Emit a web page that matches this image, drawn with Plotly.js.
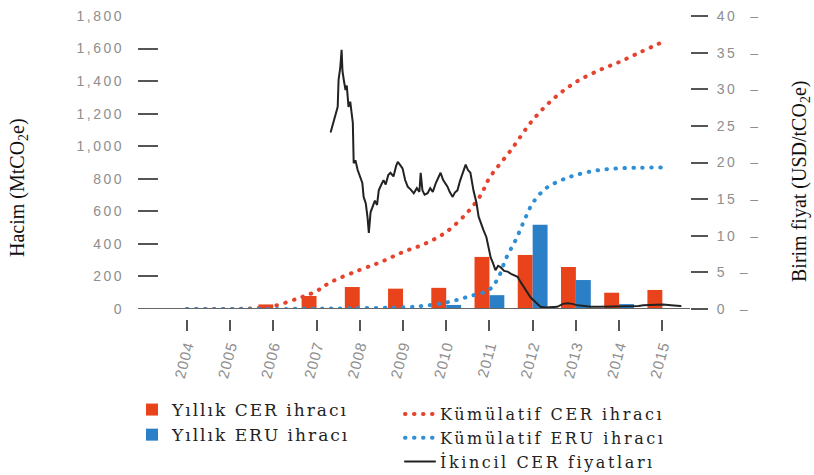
<!DOCTYPE html>
<html>
<head>
<meta charset="utf-8">
<script src="https://cdn.plot.ly/plotly-3.0.1.min.js"></script>
<style>
  html, body { margin: 0; padding: 0; background: #fff; }
  #chart { width: 814px; height: 475px; }
  /* the source picture is stretched sideways, so the texts are spaced out a bit */
  .legendtext { letter-spacing: 2px; }
  .legend2text { letter-spacing: 2.6px; }
  #chart .ytick text, #chart .y2tick text { letter-spacing: 2.5px; }
  #chart .xtick text { letter-spacing: 1px; }
  #chart .js-line { stroke-linecap: round; }
  #chart .legendbar { transform: scale(1.5, 1.3); }
</style>
</head>
<body>
<div id="chart"></div>
<script>
// yearly issuance (MtCO2e)
const years = [2004, 2005, 2006, 2007, 2008, 2009, 2010, 2011, 2012, 2013, 2014, 2015];
const yearLabels = ['2004', '2005', '2006', '2007', '2008', '2009', '2010', '2011', '2012', '2013', '2014', '2015'];
const cerAnnual = [6, 4, 28, 80, 135, 125, 130, 320, 332, 258, 100, 117];
const eruAnnual = [0, 0, 0, 0, 0, 3, 25, 85, 518, 178, 30, 0];

// cumulative issuance (MtCO2e)
const cumCerX = [2004, 2005, 2005.5, 2006, 2006.6, 2007, 2007.33, 2008, 2008.5, 2009, 2009.5, 2010, 2010.5, 2010.8, 2011, 2011.5, 2012, 2012.5, 2013, 2013.55, 2014, 2014.5, 2015];
const cumCerY = [0, 0, 4, 18, 68, 110, 165, 240, 290, 350, 400, 473, 596, 700, 805, 977, 1160, 1296, 1394, 1468, 1517, 1579, 1640];
const cumEruX = [2004, 2005, 2006, 2007, 2008, 2009, 2009.5, 2010, 2010.5, 2011, 2011.2, 2011.4, 2011.6, 2011.8, 2012, 2012.3, 2012.65, 2013, 2013.5, 2014, 2014.5, 2015];
const cumEruY = [0, 0, 0, 2, 5, 10, 20, 40, 75, 120, 190, 320, 420, 540, 650, 740, 790, 823, 852, 864, 868, 870];

// secondary CER price (USD/tCO2e)
const priceX = [2007.33, 2007.37, 2007.40, 2007.45, 2007.49, 2007.51, 2007.55, 2007.58, 2007.60, 2007.63, 2007.67, 2007.70, 2007.74, 2007.78, 2007.84, 2007.86, 2007.90, 2007.95, 2008.02, 2008.06, 2008.09, 2008.14, 2008.18, 2008.21, 2008.25, 2008.30, 2008.35, 2008.40, 2008.44, 2008.50, 2008.55, 2008.60, 2008.66, 2008.71, 2008.78, 2008.84, 2008.88, 2008.94, 2008.99, 2009.05, 2009.11, 2009.18, 2009.25, 2009.32, 2009.38, 2009.41, 2009.45, 2009.50, 2009.57, 2009.63, 2009.69, 2009.76, 2009.82, 2009.87, 2009.93, 2010.03, 2010.08, 2010.15, 2010.20, 2010.26, 2010.32, 2010.38, 2010.45, 2010.50, 2010.56, 2010.63, 2010.70, 2010.75, 2010.80, 2010.86, 2010.93, 2011.00, 2011.03, 2011.08, 2011.14, 2011.20, 2011.26, 2011.34, 2011.42, 2011.50, 2011.58, 2011.65, 2011.72, 2011.79, 2011.88, 2011.95, 2012.02, 2012.10, 2012.18, 2012.30, 2012.41, 2012.57, 2012.70, 2012.81, 2012.92, 2013.04, 2013.20, 2013.34, 2013.55, 2013.80, 2014.05, 2014.26, 2014.45, 2014.56, 2014.80, 2015.02, 2015.20, 2015.42];
const priceY = [24.2, 25.0, 25.8, 26.5, 27.6, 31.3, 33.0, 35.4, 32.5, 31.3, 29.9, 30.5, 27.6, 28.3, 25.4, 19.9, 20.3, 19.0, 18.0, 17.2, 15.3, 14.4, 12.5, 10.4, 13.2, 13.9, 14.8, 14.2, 16.2, 17.0, 17.6, 17.0, 18.3, 18.6, 18.1, 19.5, 20.1, 19.6, 19.2, 17.6, 16.7, 16.3, 15.8, 16.5, 16.0, 18.6, 16.2, 15.6, 15.8, 16.5, 16.0, 17.2, 18.0, 18.6, 17.6, 16.7, 16.0, 15.3, 15.9, 16.2, 17.5, 18.4, 19.7, 19.0, 18.6, 16.2, 14.5, 12.6, 11.9, 10.8, 9.8, 8.0, 7.0, 6.3, 5.3, 5.9, 5.7, 5.2, 5.1, 4.8, 4.6, 4.4, 3.7, 3.0, 2.2, 1.6, 1.2, 0.7, 0.3, 0.2, 0.2, 0.3, 0.7, 0.8, 0.7, 0.5, 0.4, 0.3, 0.3, 0.3, 0.3, 0.3, 0.4, 0.5, 0.6, 0.6, 0.5, 0.4];

const tickFont = { family: 'Liberation Sans, Arial, sans-serif', size: 14, color: '#8e8e8e' };
const serif = 'Liberation Serif, Times New Roman, serif';
const legendFont = { family: 'DejaVu Serif', size: 17, color: '#222' };

const traces = [
  {
    type: 'bar', name: 'Yıllık CER ihracı', x: years, y: cerAnnual,
    marker: { color: '#e8431b' }, legend: 'legend', offsetgroup: 'cer'
  },
  {
    type: 'bar', name: 'Yıllık ERU ihracı', x: years, y: eruAnnual,
    marker: { color: '#2b7fc6' }, legend: 'legend', offsetgroup: 'eru'
  },
  {
    type: 'scatter', mode: 'lines', name: 'Kümülatif CER ihracı', x: cumCerX, y: cumCerY,
    line: { color: '#e5432e', width: 4, dash: '0.5px,8.5px', shape: 'spline' }, legend: 'legend2'
  },
  {
    type: 'scatter', mode: 'lines', name: 'Kümülatif ERU ihracı', x: cumEruX, y: cumEruY,
    line: { color: '#2f8fd6', width: 4, dash: '0.5px,8.5px', shape: 'spline' }, legend: 'legend2'
  },
  {
    type: 'scatter', mode: 'lines', name: 'İkincil CER fiyatları', x: priceX, y: priceY, yaxis: 'y2',
    line: { color: '#222', width: 2 }, legend: 'legend2'
  }
];

const layout = {
  width: 814, height: 475,
  margin: { l: 138, r: 124, t: 16, b: 156, autoexpand: false },
  font: legendFont,
  paper_bgcolor: '#fff', plot_bgcolor: 'rgba(0,0,0,0)',
  showlegend: true,
  barmode: 'group', bargap: 0.31, bargroupgap: 0,
  xaxis: {
    type: 'linear', range: [2002.87, 2015.64],
    tickvals: years, ticktext: yearLabels, tickangle: -75,
    ticks: 'outside', ticklen: 11, tickwidth: 2, tickcolor: '#555',
    tickfont: { family: tickFont.family, size: 15, color: tickFont.color },
    showgrid: false, zeroline: false, showline: false,
    anchor: 'free', position: 0
  },
  yaxis: {
    domain: [0.033, 1], range: [0, 1800], dtick: 200, tickformat: ',d',
    ticks: 'inside', ticklen: 20, tickwidth: 2, tickcolor: '#555',
    ticklabelstandoff: 13, tickfont: tickFont,
    showgrid: false, zeroline: false, showline: false
  },
  yaxis2: {
    overlaying: 'y', side: 'right', range: [0, 40], dtick: 5,
    ticks: 'outside', ticklen: 17, tickwidth: 2, tickcolor: '#555',
    ticksuffix: '  –', tickfont: tickFont, ticklabelstandoff: 6,
    showgrid: false, zeroline: false, showline: false
  },
  annotations: [
    {
      text: 'Hacim (MtCO<sub>2</sub>e)', textangle: -90, showarrow: false,
      xref: 'paper', yref: 'paper', x: (18 - 138) / 552, y: (319 - 188) / 303,
      xanchor: 'center', yanchor: 'middle', font: { family: serif, size: 20, color: '#111' }
    },
    {
      text: 'Birim fiyat (USD/tCO<sub>2</sub>e)', textangle: -90, showarrow: false,
      xref: 'paper', yref: 'paper', x: (800 - 138) / 552, y: (319 - 182) / 303,
      xanchor: 'center', yanchor: 'middle', font: { family: serif, size: 20, color: '#111' }
    }
  ],
  shapes: [
    { type: 'line', xref: 'paper', x0: 0, x1: 1, yref: 'y', y0: 0, y1: 0, line: { color: '#666', width: 2 }, layer: 'above' }
  ],
  legend: {
    xref: 'container', yref: 'container', x: 132 / 814, y: 1 - 392 / 475, yanchor: 'top', xanchor: 'left',
    font: legendFont, bgcolor: 'rgba(0,0,0,0)', tracegroupgap: 0
  },
  legend2: {
    xref: 'container', yref: 'container', x: 400 / 814, y: 1 - 397 / 475, yanchor: 'top', xanchor: 'left',
    font: { family: 'DejaVu Serif', size: 16, color: '#222' }, bgcolor: 'rgba(0,0,0,0)', tracegroupgap: 0
  }
};

Plotly.newPlot('chart', traces, layout, { staticPlot: true, displayModeBar: false });
</script>
</body>
</html>
